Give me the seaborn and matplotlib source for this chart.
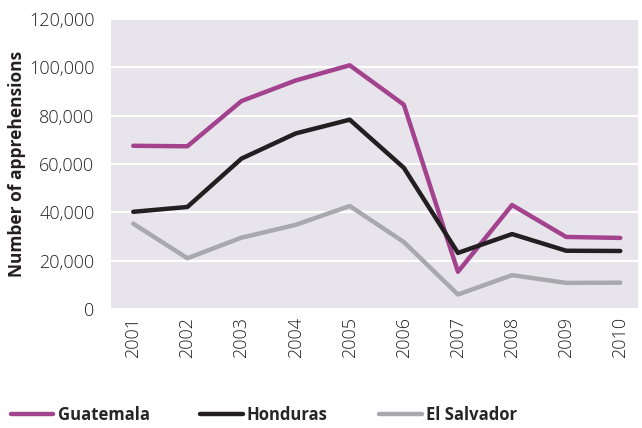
import matplotlib.pyplot as plt
import seaborn as sns
import pandas as pd

# Values
years = ["2001", "2002", "2003", "2004", "2005", "2006", "2007", "2008", "2009", "2010"]
guatemala = [67500, 67300, 86000, 94500, 100800, 84500, 15400, 43000, 29800, 29400]
honduras = [40200, 42200, 62200, 72600, 78300, 58400, 23200, 31000, 24100, 24000]
el_salvador = [35300, 21000, 29500, 34800, 42600, 27700, 6000, 14000, 10800, 10900]

countries = ["Guatemala", "Honduras", "El Salvador"]
colors = ["#A3438E", "#231F20", "#A7A9AC"]

df = pd.DataFrame({
    "year": years * 3,
    "value": guatemala + honduras + el_salvador,
    "country": [c for c in countries for _ in years],
})

sns.set_style("white")
plt.rcParams["font.family"] = ["Open Sans", "DejaVu Sans"]

fig = plt.figure(figsize=(6.42, 4.28), dpi=100)
ax = fig.add_axes([0.173, 0.278, 0.821, 0.678])
ax.set_facecolor("#E8E4EC")

sns.lineplot(data=df, x="year", y="value", hue="country", hue_order=countries,
             palette=colors, linewidth=3.2, ax=ax, sort=False, legend=False)

ax.set_ylim(0, 120000)
ax.set_yticks(range(0, 120001, 20000))
ax.set_yticklabels([f"{v:,}" for v in range(0, 120001, 20000)])
ax.set_xlim(-0.41, 9.33)
ax.grid(axis="y", color="white", linewidth=1.5)
ax.set_axisbelow(True)
for s in ax.spines.values():
    s.set_visible(False)

ax.tick_params(axis="y", labelsize=13, colors="#231F20", length=0, pad=12)
ax.tick_params(axis="x", labelsize=13, colors="#231F20", length=0, rotation=90, pad=6)
for t in ax.get_yticklabels() + ax.get_xticklabels():
    t.set_fontweight("light")

ax.set_xlabel("")
ax.set_ylabel("Number of apprehensions", fontsize=12.5, fontweight="bold",
              color="#231F20", labelpad=2)

# one legend per entry so the columns sit where the reference puts them
legend_x = [0.017, 0.312, 0.591]
for name, c, x in zip(countries, colors, legend_x):
    h = plt.Line2D([], [], color=c, linewidth=3.2)
    fig.legend([h], [name], loc="center left", bbox_to_anchor=(x, 0.03),
               frameon=False, handlelength=2.55, handletextpad=0.25,
               borderpad=0, borderaxespad=0,
               prop={"size": 12, "weight": "bold"})

fig.savefig("out.png", dpi=100)
